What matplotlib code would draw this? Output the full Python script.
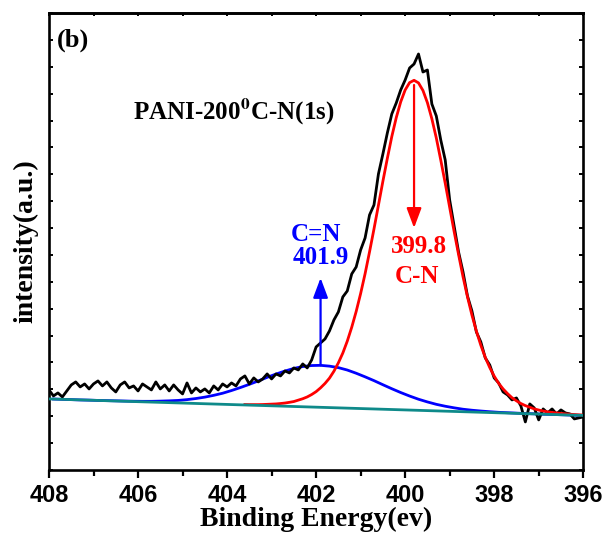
import matplotlib
matplotlib.use('Agg')
import matplotlib.pyplot as plt
import numpy as np

# N 1s spectrum of PANI-200C, binding energy in eV, intensity in arbitrary units
energy = np.linspace(408, 396, 121)
raw = [80, 74, 77, 73, 79, 85, 88, 83, 86, 81,
       86, 89, 84, 88, 82, 78, 85, 88, 82, 84,
       79, 86, 83, 80, 88, 81, 85, 79, 85, 80,
       76, 87, 77, 82, 78, 81, 77, 84, 80, 86,
       83, 87, 84, 91, 94, 86, 92, 88, 91, 96,
       91, 96, 94, 99, 97, 102, 100, 106, 102, 110,
       123, 127, 131, 139, 150, 158, 173, 179, 196, 203,
       220, 232, 255, 265, 296, 316, 337, 356, 367, 380,
       390, 402, 406, 416, 398, 400, 366, 354, 330, 310,
       270, 244, 218, 198, 174, 159, 138, 128, 112, 105,
       92, 87, 78, 75, 70, 72, 64, 48, 66, 62,
       50, 61, 57, 61, 56, 60, 57, 56, 51, 52, 53]

# fitted C-N component (399.8 eV)
cn_peak = 399.8
cn_energy = np.linspace(403.6, 396.0, 77)
cn_fit = [65.4, 65.3, 65.3, 65.3, 65.4, 65.6, 65.8, 66.0, 66.4, 66.9,
          67.6, 68.4, 69.8, 71.2, 73.0, 75.4, 78.3, 82.1, 86.5, 91.8,
          98.7, 107.1, 116.9, 128.8, 142.7, 158.5, 176.4, 196.2, 218.1, 241.0,
          264.8, 288.7, 311.6, 333.4, 352.3, 368.1, 380.0, 387.4, 389.7, 387.1,
          379.5, 367.3, 351.2, 332.0, 309.9, 286.8, 262.6, 238.5, 215.4, 193.2,
          173.1, 154.9, 138.8, 124.7, 112.5, 102.4, 93.8, 86.6, 81.0, 76.3,
          72.2, 69.1, 66.4, 64.3, 62.7, 61.0, 59.9, 58.9, 58.1, 57.5,
          57.0, 56.5, 56.1, 55.7, 55.4, 55.1, 54.9]

# fitted C=N component (401.9 eV)
imine_peak = 401.9
imine_energy = np.linspace(407.9, 396.1, 60)
imine_fit = [70.9, 70.6, 70.3, 70.0, 69.8, 69.5, 69.3, 69.1, 68.9, 68.7,
             68.6, 68.6, 68.8, 69.1, 69.5, 70.3, 71.4, 72.8, 74.6, 76.7,
             79.4, 82.4, 85.6, 89.0, 92.6, 95.9, 98.9, 101.5, 103.4, 104.4,
             104.6, 103.8, 102.3, 99.9, 96.7, 93.1, 89.3, 85.2, 81.2, 77.4,
             73.9, 70.7, 68.0, 65.6, 63.7, 62.1, 60.7, 59.7, 58.9, 58.2,
             57.6, 57.2, 56.8, 56.4, 56.1, 55.7, 55.5, 55.2, 54.9, 54.6]

# linear background
bg_energy = [408, 396]
bg = [71.0, 54.5]

plt.rcParams['font.family'] = 'Liberation Serif'
plt.rcParams['font.weight'] = 'bold'
plt.rcParams['axes.labelweight'] = 'bold'
plt.rcParams['mathtext.fontset'] = 'stix'

fig = plt.figure(figsize=(6.05, 5.42), dpi=100)
ax = fig.add_axes([0.081, 0.133, 0.883, 0.843])

ax.plot(imine_energy, imine_fit, color='#0000ff', lw=2.0, zorder=2)
ax.plot(energy, raw, color='black', lw=2.0, zorder=3)
ax.plot(cn_energy, cn_fit, color='#ff0000', lw=2.0, zorder=4)
ax.plot(bg_energy, bg, color='#0e8a8a', lw=2.0, zorder=5)

# peak markers
head = '-|>,head_length=1.2,head_width=0.45'
ax.annotate('', xy=(cn_peak, 242), xytext=(cn_peak, 385),
            arrowprops=dict(arrowstyle=head, color='#ff0000', lw=1.6,
                            shrinkA=0, shrinkB=0, mutation_scale=10), zorder=6)
ax.annotate('', xy=(imine_peak, 192), xytext=(imine_peak, 104.6),
            arrowprops=dict(arrowstyle=head, color='#0000ff', lw=1.6,
                            shrinkA=0, shrinkB=0, mutation_scale=10), zorder=6)

ax.text(cn_peak - 0.1, 223, '399.8', color='#ff0000', fontsize=18,
        ha='center', va='center')
ax.text(cn_peak - 0.07, 193, 'C-N', color='#ff0000', fontsize=18,
        ha='center', va='center')
ax.text(imine_peak + 0.1, 235, 'C=N', color='#0000ff', fontsize=18,
        ha='center', va='center')
ax.text(imine_peak, 212, '401.9', color='#0000ff', fontsize=18,
        ha='center', va='center')
ax.text(406.11, 358, r'PANI-200$^{\mathbf{0}}$C-N(1s)', fontsize=18,
        ha='left', va='center')
ax.text(0.015, 0.94, '(b)', transform=ax.transAxes, fontsize=19,
        ha='left', va='center')

ax.set_xlim(408, 396)
ax.set_ylim(0, 457)
ax.set_xticks([408, 406, 404, 402, 400, 398, 396])
ax.set_xticks([407, 405, 403, 401, 399, 397], minor=True)
ax.set_yticks(np.linspace(0, 457, 18))
ax.tick_params(axis='x', which='major', direction='out', length=6, width=1.6,
               labelsize=17, pad=4)
ax.tick_params(axis='x', which='minor', direction='out', length=4, width=1.6)
ax.tick_params(axis='y', direction='in', length=3, width=1.4,
               left=True, right=True, labelleft=False)
for lab in ax.get_xticklabels():
    lab.set_family('Liberation Sans')
    lab.set_weight('bold')

top = ax.secondary_xaxis('top')
top.set_xticks([408, 407, 406, 405, 404, 403, 402, 401, 400, 399, 398, 397, 396])
top.tick_params(direction='in', length=2.5, width=1.4, labeltop=False)

for side in ['left', 'right', 'top', 'bottom']:
    ax.spines[side].set_linewidth(1.9)
top.spines['top'].set_linewidth(1.9)

ax.set_xlabel('Binding Energy(ev)', fontsize=20, labelpad=0)
ax.set_ylabel('intensity(a.u.)', fontsize=20, labelpad=8)

fig.savefig('out.png', dpi=100)
